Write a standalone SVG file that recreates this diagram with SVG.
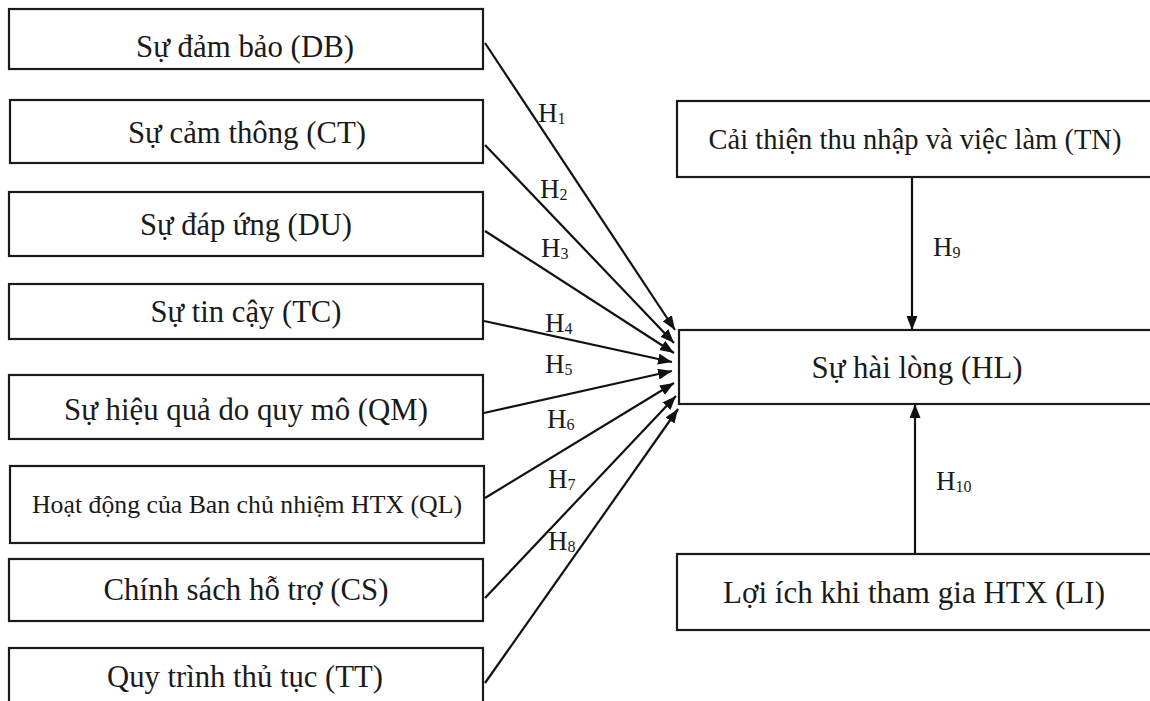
<svg xmlns="http://www.w3.org/2000/svg" width="1150" height="701" viewBox="0 0 1150 701">
  <style>
    .box { fill: #ffffff; stroke: #1a1a1a; stroke-width: 2.2; }
    .lbl { font-family: "Liberation Serif", "Times New Roman", serif; fill: #1a1a1a; text-anchor: middle; }
    .hyp { font-family: "Liberation Serif", "Times New Roman", serif; fill: #1a1a1a; font-size: 27px; }
    .sub { font-size: 16px; }
    .edge { stroke: #111111; stroke-width: 2.2; fill: none; marker-end: url(#arrow); }
  </style>
  <defs>
    <marker id="arrow" markerUnits="userSpaceOnUse" markerWidth="15" markerHeight="12" refX="14" refY="5.5" orient="auto">
      <path d="M0,0 L14,5.5 L0,11 z" fill="#111111"/>
    </marker>
  </defs>
  <rect width="1150" height="701" fill="#ffffff"/>

  <!-- connectors -->
  <g id="connectors">
    <line class="edge" x1="485" y1="43" x2="675" y2="330"/>
    <line class="edge" x1="485" y1="145" x2="674" y2="343"/>
    <line class="edge" x1="485" y1="231" x2="674" y2="353"/>
    <line class="edge" x1="484" y1="321" x2="672" y2="362"/>
    <line class="edge" x1="484" y1="413" x2="672" y2="371"/>
    <line class="edge" x1="485" y1="498" x2="674" y2="383"/>
    <line class="edge" x1="485" y1="598" x2="676" y2="396"/>
    <line class="edge" x1="485" y1="683" x2="678" y2="409"/>
    <line class="edge" x1="912" y1="177" x2="912" y2="330"/>
    <line class="edge" x1="915" y1="554" x2="915" y2="404"/>

    <text class="hyp" x="538" y="122">H<tspan class="sub" dy="2">1</tspan></text>
    <text class="hyp" x="540" y="198">H<tspan class="sub" dy="2">2</tspan></text>
    <text class="hyp" x="541" y="257">H<tspan class="sub" dy="2">3</tspan></text>
    <text class="hyp" x="545" y="332">H<tspan class="sub" dy="2">4</tspan></text>
    <text class="hyp" x="545" y="373">H<tspan class="sub" dy="2">5</tspan></text>
    <text class="hyp" x="547" y="428">H<tspan class="sub" dy="2">6</tspan></text>
    <text class="hyp" x="548" y="488">H<tspan class="sub" dy="2">7</tspan></text>
    <text class="hyp" x="548" y="550">H<tspan class="sub" dy="2">8</tspan></text>
    <text class="hyp" x="933" y="256">H<tspan class="sub" dy="2">9</tspan></text>
    <text class="hyp" x="936" y="490">H<tspan class="sub" dy="2">10</tspan></text>
  </g>

  <!-- antecedent factors -->
  <g id="node-DB">
    <rect class="box" x="9" y="9" width="474" height="60"/>
    <text class="lbl" x="245" y="57" font-size="32" textLength="218" lengthAdjust="spacingAndGlyphs">Sự đảm bảo (DB)</text>
  </g>
  <g id="node-CT">
    <rect class="box" x="10" y="100" width="473" height="63"/>
    <text class="lbl" x="247" y="143" font-size="32" textLength="238" lengthAdjust="spacingAndGlyphs">Sự cảm thông (CT)</text>
  </g>
  <g id="node-DU">
    <rect class="box" x="9" y="192" width="474" height="64"/>
    <text class="lbl" x="246" y="235" font-size="32" textLength="212" lengthAdjust="spacingAndGlyphs">Sự đáp ứng (DU)</text>
  </g>
  <g id="node-TC">
    <rect class="box" x="9" y="284" width="474" height="55"/>
    <text class="lbl" x="246" y="322" font-size="32" textLength="191" lengthAdjust="spacingAndGlyphs">Sự tin cậy (TC)</text>
  </g>
  <g id="node-QM">
    <rect class="box" x="9" y="375" width="474" height="64"/>
    <text class="lbl" x="246" y="420" font-size="32" textLength="364" lengthAdjust="spacingAndGlyphs">Sự hiệu quả do quy mô (QM)</text>
  </g>
  <g id="node-QL">
    <rect class="box" x="10" y="466" width="474" height="77"/>
    <text class="lbl" x="247" y="513" font-size="26" textLength="430" lengthAdjust="spacingAndGlyphs">Hoạt động của Ban chủ nhiệm HTX (QL)</text>
  </g>
  <g id="node-CS">
    <rect class="box" x="9" y="559" width="474" height="62"/>
    <text class="lbl" x="246" y="600" font-size="32" textLength="285" lengthAdjust="spacingAndGlyphs">Chính sách hỗ trợ (CS)</text>
  </g>
  <g id="node-TT">
    <rect class="box" x="9" y="648" width="474" height="70"/>
    <text class="lbl" x="245" y="687" font-size="32" textLength="276" lengthAdjust="spacingAndGlyphs">Quy trình thủ tục (TT)</text>
  </g>

  <!-- outcome and moderating factors -->
  <g id="node-TN">
    <rect class="box" x="677" y="101" width="480" height="76"/>
    <text class="lbl" x="915" y="149" font-size="30" textLength="413" lengthAdjust="spacingAndGlyphs">Cải thiện thu nhập và việc làm (TN)</text>
  </g>
  <g id="node-HL">
    <rect class="box" x="679" y="330" width="480" height="74"/>
    <text class="lbl" x="917" y="378" font-size="32" textLength="211" lengthAdjust="spacingAndGlyphs">Sự hài lòng (HL)</text>
  </g>
  <g id="node-LI">
    <rect class="box" x="677" y="554" width="480" height="76"/>
    <text class="lbl" x="914" y="603" font-size="31" textLength="382" lengthAdjust="spacingAndGlyphs">Lợi ích khi tham gia HTX (LI)</text>
  </g>
</svg>
